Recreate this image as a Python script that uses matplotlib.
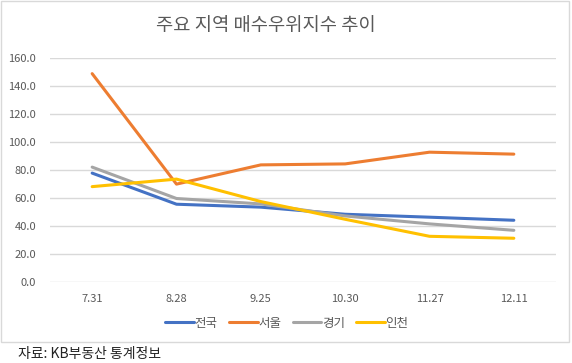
import matplotlib
matplotlib.use("Agg")
import matplotlib.pyplot as plt
from matplotlib.patches import Rectangle

plt.rcParams['font.family'] = ['Noto Sans CJK KR', 'DejaVu Sans']

dates = ["7.31", "8.28", "9.25", "10.30", "11.27", "12.11"]
nationwide = [77.7, 55.4, 53.3, 48.2, 46.1, 43.9]
seoul = [149.0, 69.8, 83.6, 84.3, 92.7, 91.3]
gyeonggi = [82.0, 59.5, 55.6, 47.0, 41.3, 36.7]
incheon = [68.0, 73.4, 57.3, 44.6, 32.4, 31.0]

series = [
    ("전국", nationwide, "#4472C4"),
    ("서울", seoul, "#ED7D31"),
    ("경기", gyeonggi, "#A5A5A5"),
    ("인천", incheon, "#FFC000"),
]

W, H = 572, 363
fig = plt.figure(figsize=(W / 100, H / 100), dpi=100)

# chart frame
fig.patches.append(Rectangle((0.5 / W, (H - 342) / H), 568 / W, 341.5 / H,
                             transform=fig.transFigure, fill=False,
                             edgecolor="#D9D9D9", linewidth=1))

ax = fig.add_axes([50 / W, (H - 281.5) / H, 506 / W, 223.2 / H])
x = list(range(len(dates)))
for name, vals, col in series:
    ax.plot(x, vals, color=col, linewidth=2.2, label=name, solid_capstyle="round")

ax.set_xlim(-0.5, len(dates) - 0.5)
ax.set_ylim(0, 160)
ax.set_yticks(range(0, 161, 20))
ax.set_yticklabels([f"{v:.1f}" for v in range(0, 161, 20)])
ax.set_xticks(x)
ax.set_xticklabels(dates)
ax.grid(axis="y", color="#D9D9D9", linewidth=1)
ax.set_axisbelow(True)
for s in ax.spines.values():
    s.set_visible(False)
ax.tick_params(length=0, labelsize=8, labelcolor="#595959")
ax.tick_params(axis="x", pad=9)
ax.tick_params(axis="y", pad=10)

fig.text(266 / W, 1 - 25 / H, "주요 지역 매수우위지수 추이", ha="center", va="center",
         fontsize=13.5, color="#595959")

leg = fig.legend(loc="center", bbox_to_anchor=(287 / W, 1 - 323 / H), ncol=4,
                 frameon=False, fontsize=9, handlelength=2.3, handletextpad=0.05,
                 columnspacing=0.9)
for t in leg.get_texts():
    t.set_color("#595959")

fig.text(18 / W, 1 - 354 / H, "자료: KB부동산 통계정보", ha="left", va="center",
         fontsize=10, color="#222222")

fig.savefig("out.png", dpi=100)
